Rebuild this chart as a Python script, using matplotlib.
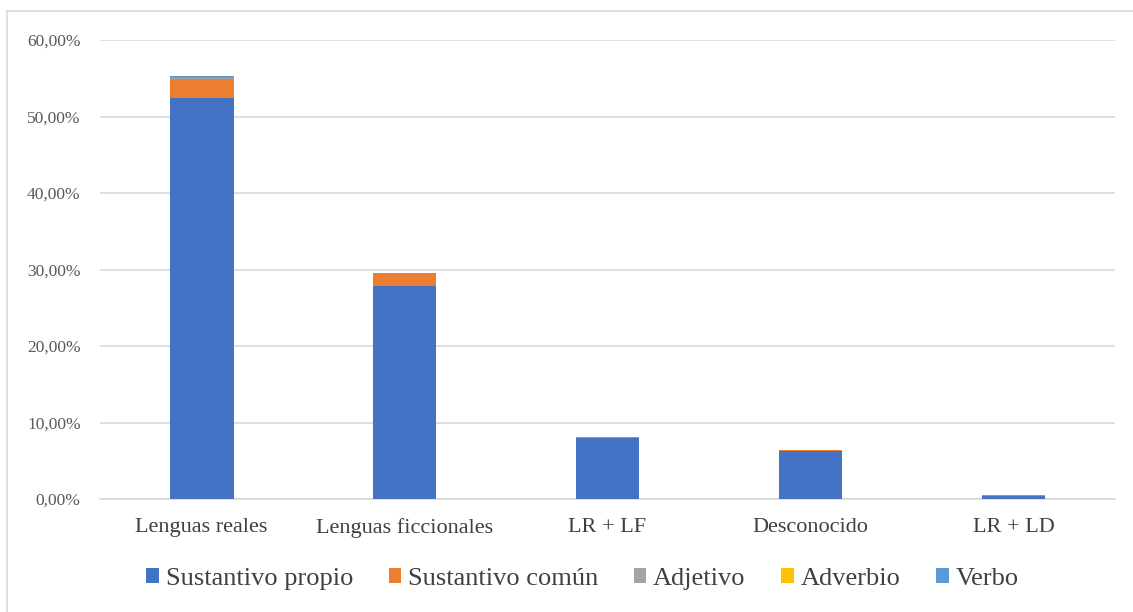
import numpy as np
import matplotlib.pyplot as plt
from matplotlib.lines import Line2D
from matplotlib.ticker import FuncFormatter

categorias = ['Lenguas reales', 'Lenguas ficcionales', 'LR + LF', 'Desconocido', 'LR + LD']
series = ['Sustantivo propio', 'Sustantivo común', 'Adjetivo', 'Adverbio', 'Verbo']

# valores en %
sust_propio = [52.4, 27.9, 7.95, 6.3, 0.42]
sust_comun = [2.5, 1.6, 0.1, 0.12, 0.05]
adjetivo = [0.2, 0.05, 0.0, 0.0, 0.0]
adverbio = [0.0, 0.0, 0.05, 0.0, 0.0]
verbo = [0.2, 0.0, 0.0, 0.0, 0.0]

colores = ['#4472C4', '#ED7D31', '#A5A5A5', '#FFC000', '#5B9BD5']

plt.rcParams['font.family'] = ['Liberation Serif', 'DejaVu Serif']

fig = plt.figure(figsize=(11.33, 6.12), dpi=100)
ax = fig.add_axes([0.0883, 0.1846, 0.8958, 0.75])

x = np.arange(len(categorias))
bottom = np.zeros(len(categorias))
for nombre, vals, c in zip(series, [sust_propio, sust_comun, adjetivo, adverbio, verbo], colores):
    vals = np.array(vals)
    ax.bar(x, vals, 0.315, bottom=bottom, color=c, label=nombre, zorder=3)
    bottom += vals

ax.set_xlim(-0.5, 4.5)
ax.set_ylim(0, 60)
ax.set_yticks(np.arange(0, 61, 10))
ax.yaxis.set_major_formatter(FuncFormatter(lambda v, p: f'{v:.2f}'.replace('.', ',') + '%'))
ax.set_xticks(x)
ax.set_xticklabels(categorias)
ax.tick_params(axis='y', length=0, pad=14, labelsize=12.5, labelcolor='#595959')
ax.tick_params(axis='x', length=0, pad=14, labelsize=16, labelcolor='#404040')
ax.grid(axis='y', color='#D9D9D9', linewidth=1.2, zorder=0)
for s in ['top', 'right', 'left']:
    ax.spines[s].set_visible(False)
ax.spines['bottom'].set_color('#D9D9D9')
ax.spines['bottom'].set_linewidth(1.2)

ax.legend(loc='center', bbox_to_anchor=(0.514, 0.054), bbox_transform=fig.transFigure,
          ncol=5, frameon=False, fontsize=19, handlelength=0.48, handleheight=0.48,
          handletextpad=0.25, columnspacing=1.35, labelcolor='#404040')

# borde exterior del gráfico
fig.add_artist(Line2D([7 / 1133, 7 / 1133], [0, 1 - 11 / 612], color='#D9D9D9', lw=1.2, transform=fig.transFigure))
fig.add_artist(Line2D([7 / 1133, 1], [1 - 11 / 612, 1 - 11 / 612], color='#D9D9D9', lw=1.2, transform=fig.transFigure))

fig.savefig('out.png', dpi=100)
